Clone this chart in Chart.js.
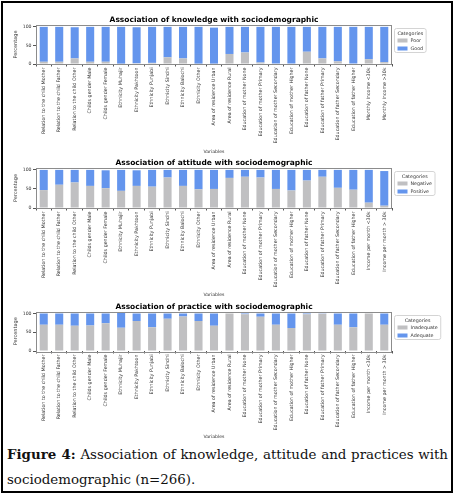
<!DOCTYPE html>
<html>
<head>
<meta charset="utf-8">
<script src="https://cdn.jsdelivr.net/npm/chart.js@4.4.1/dist/chart.umd.min.js"></script>
<style>
  body { margin: 0; background: #fff; }
  #frame { position: absolute; left: 1px; top: 1px; width: 448px; height: 488px; border: 2px solid #000; }
  canvas { position: absolute; left: 0; }
  #caption {
    position: absolute; left: 7px; top: 442px; width: 441px;
    font: 13.4px "DejaVu Serif", serif; line-height: 25px;
    text-align: justify; color: #111;
  }
</style>
</head>
<body>
<div id="frame"></div>
<canvas id="knowledgeChart" width="454" height="156" style="top:0px"></canvas>
<canvas id="attitudeChart" width="454" height="143" style="top:156px"></canvas>
<canvas id="practiceChart" width="454" height="143" style="top:299px"></canvas>
<div id="caption"><b>Figure 4:</b> Association of knowledge, attitude and practices with sociodemographic (n=266).</div>

<script>
const knowledgeLabels = [
  "Relation to the child Mother", "Relation to the child Father", "Relation to the child Other",
  "Childs gender Male", "Childs gender Female",
  "Ethnicity Muhajir", "Ethnicity Pakhtoon", "Ethnicity Punjabi", "Ethnicity Sindhi",
  "Ethnicity Balochi", "Ethnicity Other",
  "Area of residence Urban", "Area of residence Rural",
  "Education of mother None", "Education of mother Primary", "Education of mother Secondary",
  "Education of mother Higher",
  "Education of father None", "Education of father Primary", "Education of father Secondary",
  "Education of father Higher",
  "Monthly Income <30k", "Monthly Income >30k",
];

const attitudeLabels = [
  "Relation to the child Mother", "Relation to the child Father", "Relation to the child Other",
  "Childs gender Male", "Childs gender Female",
  "Ethnicity Muhajir", "Ethnicity Pakhtoon", "Ethnicity Punjabi", "Ethnicity Sindhi",
  "Ethnicity Balochi", "Ethnicity Other",
  "Area of residence Urban", "Area of residence Rural",
  "Education of mother None", "Education of mother Primary", "Education of mother Secondary",
  "Education of mother Higher",
  "Education of father None", "Education of father Primary", "Education of father Secondary",
  "Education of father Higher",
  "Income per month <30k", "Income per month > 30k",
];
const practiceLabels = attitudeLabels;

const knowledgePoor = [6, 6, 15, 6, 6, 1, 2, 3, 18, 15, 1, 1, 27, 31, 4, 0, 0, 33, 15, 7, 0, 13, 5];
const knowledgeGood = [94, 94, 84, 94, 94, 99, 97, 97, 82, 85, 99, 97, 73, 69, 96, 100, 100, 67, 85, 93, 100, 87, 95];

const attitudeNegative = [47, 61, 67, 58, 52, 45, 58, 56, 80, 58, 49, 50, 79, 82, 80, 50, 46, 72, 82, 53, 48, 14, 6];
const attitudePositive = [53, 39, 33, 42, 47, 55, 41, 44, 20, 42, 51, 50, 21, 18, 20, 50, 54, 28, 18, 47, 52, 86, 91];

const practiceInadequate = [70, 70, 67, 68, 74, 62, 80, 63, 86, 92, 80, 67, 100, 98, 91, 70, 61, 98, 99, 70, 63, 100, 70];
const practiceAdequate = [30, 30, 33, 32, 26, 41, 20, 37, 14, 8, 20, 33, 0, 2, 9, 30, 39, 2, 1, 30, 37, 0, 30];

const yTickValues = [0, 50, 100];
const yMax = 105;

const GRAY = "#c0c0c2";
const BLUE = "#6495ed";
const TEXT = "#333";
const FONT = "'DejaVu Sans', sans-serif";

// frame round the plot and a small boxed legend beside it
const frameLegendPlugin = {
  id: "frameLegend",
  afterDraw(chart, args, opts) {
    const { ctx, chartArea: a } = chart;
    ctx.save();
    ctx.strokeStyle = "#8c8c8c";
    ctx.lineWidth = 1;
    ctx.strokeRect(Math.round(a.left) + 0.5, Math.round(a.top) + 0.5,
      Math.round(a.width) - 1, Math.round(a.height));

    ctx.font = `4.8px ${FONT}`;
    const items = chart.data.datasets.map((d) => ({ text: d.label, color: d.backgroundColor }));
    const titleW = ctx.measureText(opts.title).width;
    const textW = Math.max(...items.map((i) => ctx.measureText(i.text).width));
    const w = Math.max(titleW + 5, 16 + textW + 3);
    const h = 24;
    const x = Math.round(a.right) + 2.5;
    const y = Math.round(a.top) + 3.5;

    ctx.beginPath();
    ctx.roundRect(x, y, w, h, 2);
    ctx.fillStyle = "#fff";
    ctx.fill();
    ctx.strokeStyle = "#d4d4d4";
    ctx.stroke();

    ctx.fillStyle = TEXT;
    ctx.textBaseline = "middle";
    ctx.textAlign = "center";
    ctx.fillText(opts.title, x + w / 2, y + 5);
    ctx.textAlign = "left";
    items.forEach((it, i) => {
      const ry = y + 12 + i * 8;
      ctx.fillStyle = it.color;
      ctx.fillRect(x + 3, ry - 2, 10, 4);
      ctx.fillStyle = TEXT;
      ctx.fillText(it.text, x + 16, ry);
    });
    ctx.restore();
  },
};

function makeChart(canvasId, cfg) {
  return new Chart(document.getElementById(canvasId), {
    type: "bar",
    data: {
      labels: cfg.labels,
      datasets: [
        { label: cfg.names[0], data: cfg.bottom, backgroundColor: GRAY, barPercentage: 0.52, categoryPercentage: 1 },
        { label: cfg.names[1], data: cfg.top, backgroundColor: BLUE, barPercentage: 0.52, categoryPercentage: 1 },
      ],
    },
    plugins: [frameLegendPlugin],
    options: {
      responsive: false,
      animation: false,
      layout: { padding: { left: 8, right: 62, top: 0, bottom: 0 } },
      plugins: {
        legend: { display: false },
        tooltip: { enabled: false },
        title: {
          display: true,
          text: cfg.title,
          fullSize: false,
          color: "#000",
          font: { family: FONT, size: 7.5, weight: "bold", lineHeight: 1.2 },
          padding: { top: cfg.titleTop, bottom: cfg.titleBottom },
        },
        frameLegend: { title: "Categories" },
      },
      scales: {
        x: {
          stacked: true,
          afterFit: (scale) => { scale.height = cfg.xHeight; },
          grid: { display: true, drawOnChartArea: false, drawTicks: true, tickLength: 2.5, color: "#555" },
          border: { display: false },
          ticks: {
            autoSkip: false,
            maxRotation: 90,
            minRotation: 90,
            padding: 1,
            color: TEXT,
            font: { family: FONT, size: 4.8 },
          },
          title: {
            display: true,
            text: "Variables",
            color: TEXT,
            font: { family: FONT, size: 4.6, lineHeight: 1.2 },
            padding: { top: 0, bottom: cfg.varPad },
          },
        },
        y: {
          stacked: true,
          min: 0,
          max: yMax,
          afterFit: (scale) => { scale.width = 28; },
          afterBuildTicks: (scale) => { scale.ticks = yTickValues.map((v) => ({ value: v })); },
          grid: { display: true, drawOnChartArea: false, drawTicks: true, tickLength: 3, color: "#555" },
          border: { display: false },
          ticks: {
            padding: 1.5,
            color: TEXT,
            font: { family: FONT, size: 4.6 },
          },
          title: {
            display: true,
            text: "Percentage",
            color: TEXT,
            font: { family: FONT, size: 5, lineHeight: 1.2 },
            padding: { top: 5, bottom: 0 },
          },
        },
      },
    },
  });
}

makeChart("knowledgeChart", {
  title: "Association of knowledge with sociodemographic",
  labels: knowledgeLabels,
  names: ["Poor", "Good"],
  bottom: knowledgePoor,
  top: knowledgeGood,
  titleTop: 15.5, titleBottom: 0.5, xHeight: 92, varPad: 1,
});

makeChart("attitudeChart", {
  title: "Association of attitude with sociodemographic",
  labels: attitudeLabels,
  names: ["Negative", "Positive"],
  bottom: attitudeNegative,
  top: attitudePositive,
  titleTop: 2.5, titleBottom: 0.5, xHeight: 91, varPad: 1.5,
});

makeChart("practiceChart", {
  title: "Association of practice with sociodemographic",
  labels: practiceLabels,
  names: ["Inadequate", "Adequate"],
  bottom: practiceInadequate,
  top: practiceAdequate,
  titleTop: 3.5, titleBottom: 0, xHeight: 91, varPad: 2,
});
</script>
</body>
</html>
